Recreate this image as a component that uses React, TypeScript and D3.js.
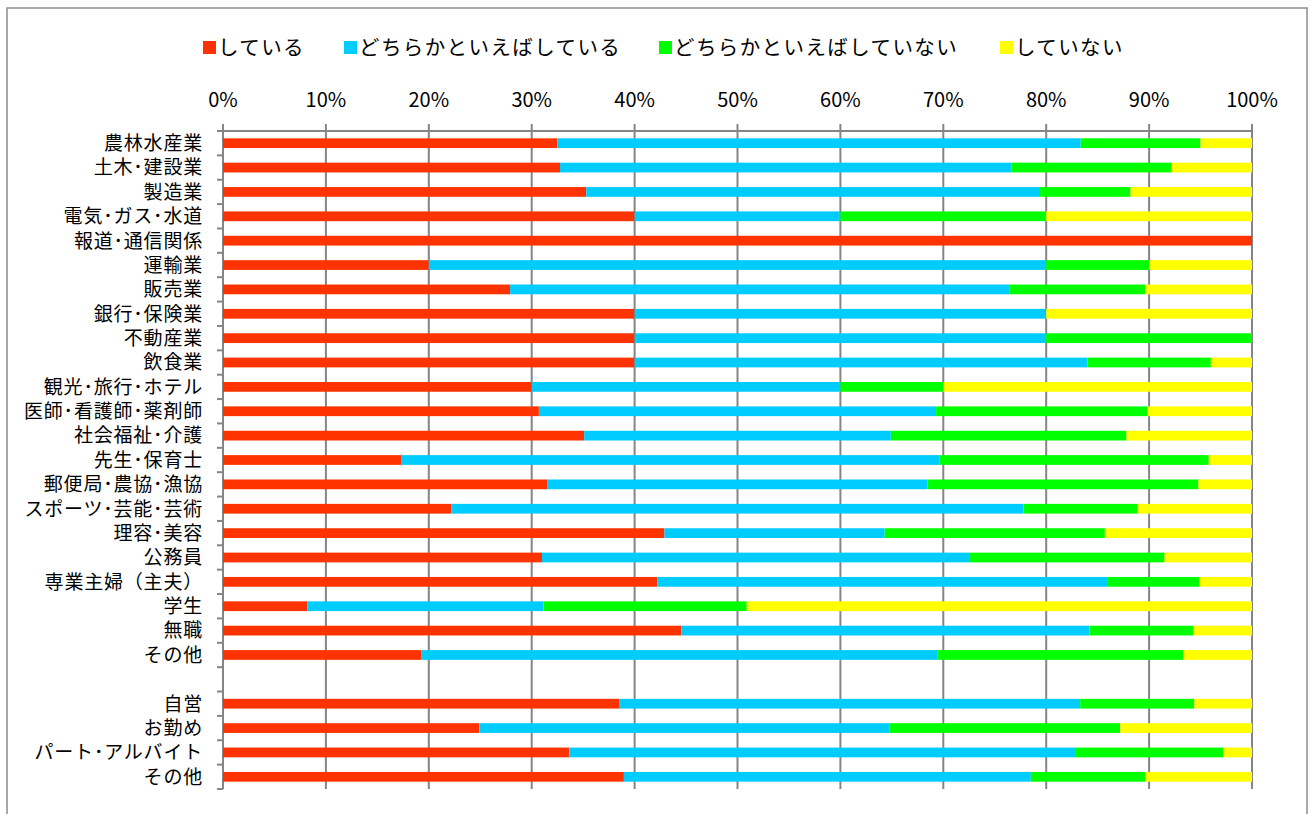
import React from "react";
import * as d3 from "d3";

const categories = [
  "農林水産業", "土木･建設業", "製造業", "電気･ガス･水道", "報道･通信関係", "運輸業", "販売業",
  "銀行･保険業", "不動産業", "飲食業", "観光･旅行･ホテル", "医師･看護師･薬剤師", "社会福祉･介護",
  "先生･保育士", "郵便局･農協･漁協", "スポーツ･芸能･芸術", "理容･美容", "公務員", "専業主婦（主夫）",
  "学生", "無職", "その他", "", "自営", "お勤め", "パート･アルバイト", "その他",
];

const seriesNames = ["している", "どちらかといえばしている", "どちらかといえばしていない", "していない"];
const seriesColors = ["#FF3300", "#00CCFF", "#00FF00", "#FFFF00"];

const doing = [32.5, 32.75, 35.3, 40, 100, 20, 27.9, 40, 40, 40, 30, 30.7, 35.1, 17.3, 31.5, 22.2, 42.9, 31.0, 42.2, 8.2, 44.55, 19.3, 0, 38.55, 24.9, 33.65, 38.96];
const ratherDoing = [50.85, 43.9, 44.1, 20, 0, 60, 48.5, 40, 40, 44, 30, 38.6, 29.8, 52.3, 36.95, 55.6, 21.4, 41.5, 43.8, 22.95, 39.65, 50.1, 0, 44.75, 39.9, 49.15, 39.54];
const ratherNot = [11.65, 15.55, 8.8, 20, 0, 10, 13.2, 0, 20, 12, 10, 20.5, 22.9, 26.2, 26.35, 11.1, 21.4, 19.0, 8.9, 19.75, 10.1, 23.9, 0, 11.1, 22.4, 14.4, 11.1];
const notDoing = [5.0, 7.8, 11.8, 20, 0, 10, 10.4, 20, 0, 4, 30, 10.2, 12.2, 4.2, 5.2, 11.1, 14.3, 8.5, 5.1, 49.1, 5.7, 6.7, 0, 5.6, 12.8, 2.8, 10.4];

const xTicks = [0, 10, 20, 30, 40, 50, 60, 70, 80, 90, 100];

const W = 1311;
const H = 814;
const FONT = "'Noto Sans CJK JP', 'Noto Sans', sans-serif";

export default function App() {
  const x = d3.scaleLinear().domain([0, 100]).range([223, 1252]);
  const idx = categories.map((_, i) => String(i));
  const y = d3.scaleBand().domain(idx).range([131, 789]).paddingInner(0.6).paddingOuter(0.3);

  const table = categories.map((c, i) => ({
    key: String(i),
    s0: doing[i],
    s1: ratherDoing[i],
    s2: ratherNot[i],
    s3: notDoing[i],
  }));
  const stack = d3.stack<any>().keys(["s0", "s1", "s2", "s3"])(table);

  const step = y.step();
  const boundaries = d3.range(categories.length + 1).map((i) => 131 + i * step);

  const legendX = [203, 344, 659, 1000];

  return (
    <svg
      width={W}
      height={H}
      style={{ position: "absolute", left: 0, top: 0, background: "#fff" }}
      fontFamily={FONT}
    >
      <rect x={0} y={0} width={W} height={H} fill="#fff" />
      <rect x={7} y={8} width={1300} height={830} fill="none" stroke="#8c8c8c" strokeWidth={1.5} />

      {/* legend */}
      {seriesNames.map((n, i) => (
        <g key={n}>
          <rect x={legendX[i]} y={41} width={13} height={13} fill={seriesColors[i]} />
          <text x={legendX[i] + 15} y={54.5} fontSize={20.5} letterSpacing={1.4} fill="#000">
            {n}
          </text>
        </g>
      ))}

      {/* x tick labels */}
      {xTicks.map((t) => (
        <text key={t} x={x(t)} y={107} fontSize={20} textAnchor="middle" fill="#000">
          {t}%
        </text>
      ))}

      {/* gridlines and top ticks */}
      {xTicks.map((t) => (
        <line key={"g" + t} x1={x(t)} x2={x(t)} y1={124} y2={789} stroke="#858585" strokeWidth={2} />
      ))}
      <line x1={217} x2={x(100) + 1} y1={131} y2={131} stroke="#858585" strokeWidth={2} />

      {/* left ticks */}
      {boundaries.map((b, i) => (
        <line key={"t" + i} x1={217} x2={223} y1={b} y2={b} stroke="#858585" strokeWidth={2} />
      ))}

      {/* bars */}
      {stack.map((layer, si) => (
        <g key={si} fill={seriesColors[si]}>
          {layer.map((d, i) => {
            const w = x(d[1]) - x(d[0]);
            if (w <= 0) return null;
            return (
              <rect
                key={i}
                x={x(d[0])}
                y={y(String(i))}
                width={w}
                height={y.bandwidth()}
              />
            );
          })}
        </g>
      ))}

      {/* category labels */}
      {categories.map((c, i) => (
        <text
          key={"c" + i}
          x={203}
          y={(y(String(i)) as number) + y.bandwidth() / 2}
          dy="0.36em"
          fontSize={19}
          letterSpacing={0.8}
          textAnchor="end"
          fill="#000"
        >
          {c}
        </text>
      ))}
    </svg>
  );
}
